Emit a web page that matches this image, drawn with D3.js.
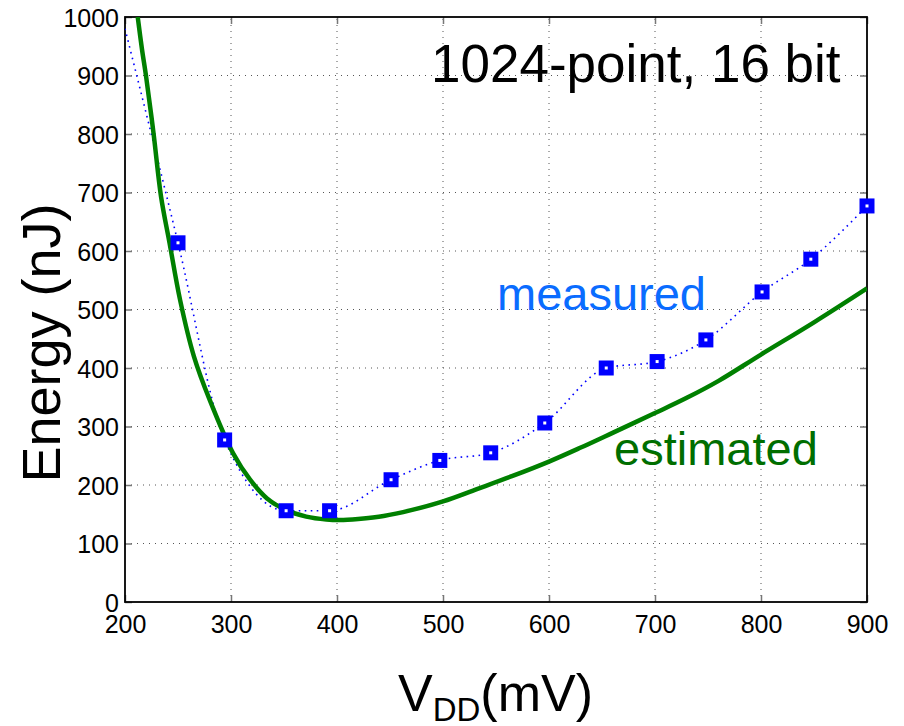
<!DOCTYPE html>
<html>
<head>
<meta charset="utf-8">
<script src="https://cdn.jsdelivr.net/npm/d3@7"></script>
<style>
  html, body { margin: 0; padding: 0; background: #fff; }
  svg { display: block; font-family: "Liberation Sans", Arial, Helvetica, sans-serif; }
</style>
</head>
<body>
<svg id="chart" width="904" height="726"></svg>
<script>
// ---- data ----
const xTicks = [200, 300, 400, 500, 600, 700, 800, 900];
const yTicks = [0, 100, 200, 300, 400, 500, 600, 700, 800, 900, 1000];

// measured (markers)
const measuredV = [250, 294, 352, 393, 451, 497, 545, 596, 654, 702, 748, 801, 847, 900];
const measuredE = [614, 277, 156, 156, 209, 242, 255, 306, 400, 411, 448, 530, 586, 677];

// dotted measured line (starts at left edge, then through the markers)
const dottedV = [200, 250, 294, 352, 393, 451, 497, 545, 596, 654, 702, 748, 801, 847, 900];
const dottedE = [980, 614, 277, 156, 156, 209, 242, 255, 306, 400, 411, 448, 530, 586, 677];

// estimated (model curve)
const estimatedV = [212, 216, 220, 227, 234, 242, 252, 265, 280, 302, 318, 334, 352, 371, 390, 403, 420, 444, 470, 500, 532, 565, 600, 630, 661, 700, 730, 760, 800, 850, 900];
const estimatedE = [1000, 945, 897, 800, 693, 614, 516, 420, 345, 254, 209, 177, 157, 146, 141, 140, 142, 147, 157, 172, 193, 215, 240, 264, 290, 323, 349, 378, 423, 478, 536];

// ---- layout ----
const L = 125, R = 867, T = 17, B = 602;
const svg = d3.select("#chart");
const x = d3.scaleLinear().domain([200, 900]).range([L, R]);
const y = d3.scaleLinear().domain([0, 1000]).range([B, T]);

svg.append("defs").append("clipPath").attr("id", "plotclip")
  .append("rect").attr("x", L).attr("y", T).attr("width", R - L).attr("height", B - T);

// grid
const grid = svg.append("g");
grid.selectAll("line.vg").data(xTicks.slice(1, -1)).enter().append("line")
  .attr("x1", d => x(d)).attr("x2", d => x(d)).attr("y1", B).attr("y2", T)
  .attr("stroke", "#555").attr("stroke-width", 1).attr("stroke-dasharray", "1,5");
grid.selectAll("line.hg").data(yTicks.slice(1, -1)).enter().append("line")
  .attr("y1", d => y(d)).attr("y2", d => y(d)).attr("x1", L).attr("x2", R)
  .attr("stroke", "#555").attr("stroke-width", 1).attr("stroke-dasharray", "1,5");

// axes (ticks inside, all four sides)
const tickLen = 7;
const axB = svg.append("g").attr("transform", `translate(0,${B})`)
  .call(d3.axisBottom(x).tickValues(xTicks).tickSize(-tickLen).tickPadding(10).tickFormat(d3.format("d")));
const axT = svg.append("g").attr("transform", `translate(0,${T})`)
  .call(d3.axisTop(x).tickValues(xTicks).tickSize(-tickLen).tickFormat(""));
const axL = svg.append("g").attr("transform", `translate(${L},0)`)
  .call(d3.axisLeft(y).tickValues(yTicks).tickSize(-tickLen).tickPadding(7).tickFormat(d3.format("d")));
const axR = svg.append("g").attr("transform", `translate(${R},0)`)
  .call(d3.axisRight(y).tickValues(yTicks).tickSize(-tickLen).tickFormat(""));

[axB, axT, axL, axR].forEach(a => {
  a.select(".domain").remove();
  a.selectAll(".tick line").attr("stroke", "#777").attr("stroke-width", 1.5);
  a.selectAll("text").attr("fill", "#000").style("font-size", "25px")
    .style("font-family", '"Liberation Sans", Arial, sans-serif');
});
axB.selectAll("text").attr("dy", null).attr("y", 31);
axL.selectAll("text").attr("dy", "0.36em").attr("x", -6);

// box
svg.append("rect").attr("x", L).attr("y", T).attr("width", R - L).attr("height", B - T)
  .attr("fill", "none").attr("stroke", "#000").attr("stroke-width", 1.8);

const plot = svg.append("g").attr("clip-path", "url(#plotclip)");

// dotted measured line
const dotted = dottedV.map((v, i) => [v, dottedE[i]]);
plot.append("path")
  .attr("d", d3.line().x(d => x(d[0])).y(d => y(d[1])).curve(d3.curveMonotoneX)(dotted))
  .attr("fill", "none").attr("stroke", "#0000ff").attr("stroke-width", 1.6)
  .attr("stroke-dasharray", "1.6,4.4");

// estimated curve
const est = estimatedV.map((v, i) => [v, estimatedE[i]]);
plot.append("path")
  .attr("d", d3.line().x(d => x(d[0])).y(d => y(d[1])).curve(d3.curveCatmullRom)(est))
  .attr("fill", "none").attr("stroke", "#008000").attr("stroke-width", 4.5)
  .attr("stroke-linejoin", "round");

// measured markers
const meas = measuredV.map((v, i) => [v, measuredE[i]]);
svg.append("g").selectAll("rect").data(meas).enter().append("rect")
  .attr("x", d => x(d[0]) - 4.5).attr("y", d => y(d[1]) - 4.5)
  .attr("width", 9).attr("height", 9)
  .attr("fill", "#fff").attr("stroke", "#0000ff").attr("stroke-width", 6);

// annotations
svg.append("text").attr("x", 431).attr("y", 82)
  .style("font-size", "53px").attr("fill", "#000").text("1024-point, 16 bit");
svg.append("text").attr("x", 497).attr("y", 310)
  .style("font-size", "47px").attr("fill", "#0a6cff").text("measured");
svg.append("text").attr("x", 614).attr("y", 465)
  .style("font-size", "47px").attr("fill", "#006e00").text("estimated");

// axis labels
svg.append("text").attr("transform", "translate(60,343) rotate(-90)")
  .attr("text-anchor", "middle").style("font-size", "54px").attr("fill", "#000")
  .text("Energy (nJ)");

const xl = svg.append("text").attr("x", 398).attr("y", 711)
  .style("font-size", "52px").attr("fill", "#000");
xl.append("tspan").text("V");
xl.append("tspan").attr("dy", 10).style("font-size", "33px").text("DD");
xl.append("tspan").attr("dy", -10).text("(mV)");
</script>
</body>
</html>
